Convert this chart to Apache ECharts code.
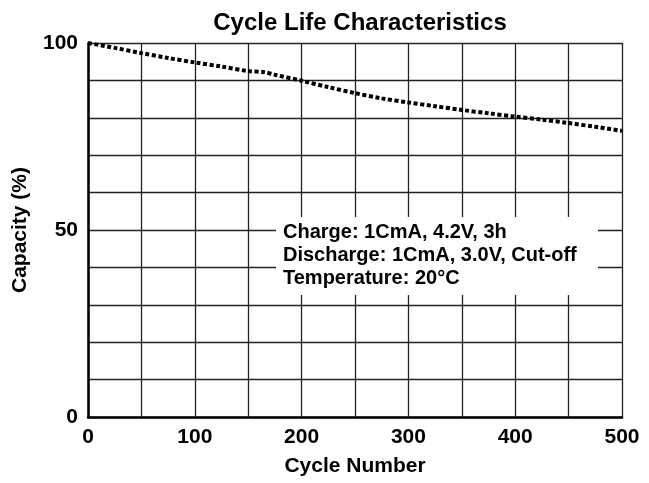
<!DOCTYPE html>
<html>
<head>
<meta charset="utf-8">
<script src="https://cdn.jsdelivr.net/npm/echarts@6/dist/echarts.min.js"></script>
<style>
  html, body { margin: 0; padding: 0; background: #fff; }
  #main { width: 649px; height: 483px; }
</style>
</head>
<body>
<div id="main"></div>
<script>
// cycle number vs capacity (%)
var cycles = [0, 25, 50, 75, 100, 125, 150, 165, 175, 200, 225, 250, 275, 300, 325, 350, 375, 400, 425, 450, 475, 500];
var capacity = [100, 98.7, 97.3, 96.0, 94.8, 93.7, 92.5, 92.2, 91.5, 89.9, 88.2, 86.6, 85.2, 84.1, 83.1, 82.1, 81.2, 80.3, 79.5, 78.6, 77.6, 76.5];
var yLabels = [0, 50, 100];
var notes = ['Charge: 1CmA, 4.2V, 3h', 'Discharge: 1CmA, 3.0V, Cut-off', 'Temperature: 20\u00B0C'];

var myChart = echarts.init(document.getElementById('main'));
var font = 'Liberation Sans, Arial, sans-serif';

var option = {
  animation: false,
  title: {
    text: 'Cycle Life Characteristics',
    left: 355,
    textAlign: 'center',
    top: 6,
    textStyle: { fontFamily: font, fontSize: 24, fontWeight: 'bold', color: '#000' }
  },
  grid: { left: 88, right: 27, top: 43, bottom: 66, containLabel: false, outerBoundsMode: 'none' },
  xAxis: {
    type: 'value',
    min: 0,
    max: 500,
    interval: 50,
    name: 'Cycle Number',
    nameLocation: 'middle',
    nameGap: 39,
    nameTextStyle: { fontFamily: font, fontSize: 21, fontWeight: 'bold', color: '#000' },
    axisLine: { show: true, lineStyle: { color: '#000', width: 2.5 } },
    axisTick: { show: false },
    axisLabel: {
      margin: 10,
      fontFamily: font, fontSize: 21, fontWeight: 'bold', color: '#000',
      formatter: function (v) { return v % 100 === 0 ? String(v) : ''; }
    },
    splitLine: { show: true, lineStyle: { color: '#222', width: 1.3 } }
  },
  yAxis: {
    type: 'value',
    min: 0,
    max: 100,
    interval: 10,
    name: 'Capacity (%)',
    nameLocation: 'middle',
    nameGap: 57,
    nameRotate: 90,
    nameTextStyle: { fontFamily: font, fontSize: 21, fontWeight: 'bold', color: '#000' },
    axisLine: { show: true, lineStyle: { color: '#000', width: 2.5 } },
    axisTick: { show: false },
    axisLabel: {
      margin: 10,
      fontFamily: font, fontSize: 21, fontWeight: 'bold', color: '#000',
      formatter: function (v) { return yLabels.indexOf(v) >= 0 ? String(v) : ''; }
    },
    splitLine: { show: true, lineStyle: { color: '#222', width: 1.3 } }
  },
  graphic: [
    {
      type: 'rect',
      shape: { x: 276, y: 217, width: 322, height: 78 },
      style: { fill: '#fff' },
      z: 10
    },
    {
      type: 'text',
      x: 283,
      y: 221,
      z: 11,
      style: {
        text: notes.join('\n'),
        fontFamily: font,
        fontSize: 20,
        fontWeight: 'bold',
        lineHeight: 23,
        fill: '#000'
      }
    }
  ],
  series: [
    {
      type: 'line',
      data: cycles.map(function (c, i) { return [c, capacity[i]]; }),
      smooth: 0.3,
      showSymbol: false,
      lineStyle: { color: '#000', width: 4, type: [4, 2.5], cap: 'butt' },
      z: 5
    }
  ]
};
myChart.setOption(option);
</script>
</body>
</html>
